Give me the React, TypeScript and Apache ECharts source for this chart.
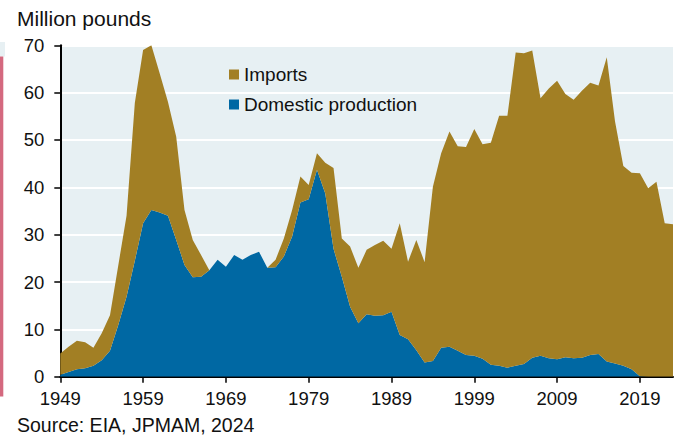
import React, { useEffect, useRef } from "react";
import * as echarts from "echarts";

const years: string[] = [];
for (let y = 1949; y <= 2023; y++) years.push(String(y));

// Domestic production (million pounds), 1949-2023
const domestic = [
  0.4, 1.0, 1.6, 1.8, 2.3, 3.5, 5.5, 10.9, 16.9, 24.5,
  32.4, 35.2, 34.7, 34.0, 28.9, 23.6, 21.0, 21.1, 22.5, 24.7,
  23.2, 25.7, 24.7, 25.7, 26.4, 23.0, 23.1, 25.4, 29.6, 36.8,
  37.5, 43.7, 38.7, 27.0, 21.1, 14.8, 11.3, 13.2, 12.9, 13.0,
  13.7, 8.8, 7.9, 5.6, 3.0, 3.3, 6.1, 6.3, 5.5, 4.6,
  4.4, 3.8, 2.5, 2.3, 1.9, 2.3, 2.7, 4.0, 4.4, 3.9,
  3.7, 4.1, 3.9, 4.0, 4.6, 4.8, 3.2, 2.8, 2.3, 1.6,
  0.1, 0, 0, 0, 0,
];

// Imports (million pounds), 1949-2023
const imports = [
  4.5, 5.3, 6.0, 5.5, 3.8, 5.7, 7.5, 12.6, 17.1, 33.3,
  36.6, 34.8, 29.4, 24.1, 21.8, 11.6, 7.9, 4.6, 0, 0,
  0, 0, 0, 0, 0, 0, 1.6, 3.8, 5.6, 5.5,
  3.0, 3.5, 6.5, 17.1, 8.1, 12.7, 11.7, 13.6, 14.9, 15.7,
  13.3, 23.6, 16.4, 23.3, 21.2, 36.8, 41.1, 45.5, 43.2, 43.9,
  47.9, 45.3, 46.9, 52.8, 53.2, 66.2, 65.6, 64.9, 54.4, 57.0,
  58.8, 55.6, 54.6, 56.4, 57.5, 56.7, 64.3, 51.1, 42.2, 41.5,
  42.9, 39.8, 41.2, 32.4, 32.2,
];

const yTicks = { min: 0, max: 70, interval: 10 };

const FONT = '"Liberation Sans", Arial, Helvetica, sans-serif';
const GOLD = "#a27f24";
const BLUE = "#0068a3";
const BG = "#e7f0f3";

export default function App() {
  const ref = useRef<HTMLDivElement>(null);

  useEffect(() => {
    if (!ref.current) return;
    const chart = echarts.init(ref.current, undefined, { renderer: "svg" });
    chart.setOption({
      animation: false,
      backgroundColor: "#ffffff",
      textStyle: { fontFamily: FONT },
      grid: {
        left: 60.3,
        right: 1,
        top: 45.3,
        bottom: 59.3,
        containLabel: false,
        show: true,
        backgroundColor: BG,
        borderWidth: 0,
      },
      legend: {
        orient: "vertical",
        left: 224,
        top: 60,
        itemWidth: 10,
        itemHeight: 10,
        itemGap: 11,
        icon: "rect",
        data: ["Imports", "Domestic production"],
        textStyle: { fontSize: 19, color: "#111", fontFamily: FONT },
        selectedMode: false,
      },
      xAxis: {
        type: "category",
        data: years,
        boundaryGap: false,
        axisLine: { show: true, lineStyle: { color: "#000", width: 2 } },
        axisTick: {
          show: true,
          interval: 9,
          length: 6,
          lineStyle: { color: "#000", width: 1.5 },
        },
        axisLabel: {
          interval: 9,
          color: "#111",
          fontSize: 18.5,
          fontFamily: FONT,
          margin: 12,
        },
        splitLine: { show: false },
      },
      yAxis: {
        type: "value",
        min: yTicks.min,
        max: yTicks.max,
        interval: yTicks.interval,
        axisLine: { show: true, lineStyle: { color: "#000", width: 2 } },
        axisTick: { show: true, length: 6, lineStyle: { color: "#000", width: 1.5 } },
        axisLabel: { color: "#111", fontSize: 18.5, fontFamily: FONT, margin: 16 },
        splitLine: { show: true, lineStyle: { color: "#ffffff", width: 2 } },
      },
      series: [
        {
          name: "Domestic production",
          type: "line",
          stack: "total",
          data: domestic,
          symbol: "none",
          showSymbol: false,
          lineStyle: { width: 0 },
          areaStyle: { color: BLUE, opacity: 1 },
          itemStyle: { color: BLUE },
        },
        {
          name: "Imports",
          type: "line",
          stack: "total",
          data: imports,
          symbol: "none",
          showSymbol: false,
          lineStyle: { width: 0 },
          areaStyle: { color: GOLD, opacity: 1 },
          itemStyle: { color: GOLD },
        },
      ],
      graphic: [
        {
          type: "text",
          left: 17,
          top: 8,
          style: {
            text: "Million pounds",
            fontSize: 21,
            fontFamily: FONT,
            fill: "#111",
          },
        },
        {
          type: "text",
          left: 17,
          top: 415,
          style: {
            text: "Source: EIA, JPMAM, 2024",
            fontSize: 19.5,
            fontFamily: FONT,
            fill: "#111",
          },
        },
        {
          type: "rect",
          shape: { x: 0, y: 42, width: 5, height: 14.5 },
          style: { fill: BG },
        },
        {
          type: "rect",
          shape: { x: 0, y: 56.5, width: 3.3, height: 340 },
          style: { fill: "#d4697f" },
        },
      ],
    });
    return () => chart.dispose();
  }, []);

  return (
    <div
      ref={ref}
      style={{ position: "absolute", left: 0, top: 0, width: 674, height: 436 }}
    />
  );
}
